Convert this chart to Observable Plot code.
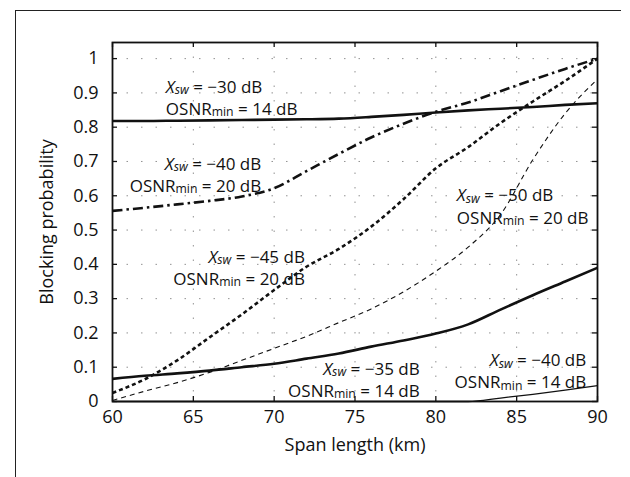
<!DOCTYPE html>
<html><head><meta charset="utf-8">
<script src="https://cdn.jsdelivr.net/npm/d3@7"></script>
<script src="https://cdn.jsdelivr.net/npm/@observablehq/plot@0.6"></script>
<style>
body{margin:0;background:#fff;}
#wrap{position:relative;width:630px;height:477px;overflow:hidden;background:#fff;}
#wrap svg{position:absolute;left:0;top:0;}
#border{position:absolute;left:15px;top:10px;width:605px;height:480px;border-left:1.5px solid #222;border-top:1.5px solid #222;z-index:2;pointer-events:none;}
</style></head><body><div id="wrap"></div>
<script>
// Span length (km)
const spanKm = [60, 62, 64, 66, 68, 70, 72, 74, 76, 78, 80, 82, 84, 86, 88, 90];
// Blocking probability per curve (Xsw, OSNRmin)
const xsw30_osnr14 = [0.818, 0.818, 0.819, 0.820, 0.821, 0.822, 0.823, 0.825, 0.830, 0.836, 0.843, 0.849, 0.854, 0.859, 0.865, 0.870];
const xsw40_osnr20 = [0.556, 0.565, 0.575, 0.585, 0.598, 0.622, 0.672, 0.722, 0.770, 0.810, 0.845, 0.872, 0.905, 0.938, 0.970, 1.000];
const xsw45_osnr20 = [0.025, 0.065, 0.120, 0.187, 0.254, 0.325, 0.393, 0.445, 0.510, 0.590, 0.680, 0.742, 0.812, 0.875, 0.935, 1.000];
const xsw50_osnr20 = [0.003, 0.030, 0.055, 0.085, 0.120, 0.155, 0.190, 0.230, 0.270, 0.320, 0.380, 0.450, 0.545, 0.705, 0.840, 0.940];
const xsw35_osnr14 = [0.066, 0.075, 0.082, 0.090, 0.100, 0.110, 0.125, 0.140, 0.160, 0.178, 0.198, 0.225, 0.268, 0.310, 0.350, 0.390];
const xsw40_osnr14 = [0.000, 0.000, 0.000, 0.000, 0.000, 0.000, 0.000, 0.000, 0.000, 0.000, 0.000, 0.000, 0.010, 0.021, 0.033, 0.046];

// Curve annotations
const labelXsw  = ["−30 dB", "−40 dB", "−45 dB", "−50 dB", "−35 dB", "−40 dB"];
const labelOsnr = ["14 dB", "20 dB", "20 dB", "20 dB", "14 dB", "14 dB"];
const labelAtKm = [63.3, 69.2, 71.9, 81.3, 79.0, 89.3];
const labelAtP  = [0.888, 0.665, 0.393, 0.572, 0.067, 0.091];
const labelSide = ["start", "end", "end", "start", "end", "end"];

// Axis ticks
const xTicks = [60, 65, 70, 75, 80, 85, 90];
const yTicks = [0, 0.1, 0.2, 0.3, 0.4, 0.5, 0.6, 0.7, 0.8, 0.9, 1];
const yTickLabels = ["0", "0.1", "0.2", "0.3", "0.4", "0.5", "0.6", "0.7", "0.8", "0.9", "1"];

const toRows = vals => spanKm.map((x, i) => ({x, y: vals[i]}));
const curves = [
  {rows: toRows(xsw30_osnr14), sw: 2.6, dash: null},
  {rows: toRows(xsw40_osnr20), sw: 2.6, dash: "10,4,2.5,4"},
  {rows: toRows(xsw45_osnr20), sw: 2.6, dash: "4,3"},
  {rows: toRows(xsw50_osnr20), sw: 1.1, dash: "5,4"},
  {rows: toRows(xsw35_osnr14), sw: 2.6, dash: null},
  {rows: toRows(xsw40_osnr14), sw: 1.3, dash: null}
];
const labels = labelXsw.map((s, i) => ({x: labelAtKm[i], y: labelAtP[i], side: labelSide[i],
  txt: "X_sw = " + s + "\nOSNR_min = " + labelOsnr[i]}));

const W = 630, H = 477, mL = 112, mR = 33, mT = 42, mB = 76;
const innerW = W - mL - mR, innerH = H - mT - mB, tick = 5;

const marks = [
  Plot.gridX(xTicks, {stroke: "#777", strokeOpacity: 0.8, strokeDasharray: "1.5,13"}),
  Plot.gridY(yTicks, {stroke: "#777", strokeOpacity: 0.8, strokeDasharray: "1.5,13"}),
  ...curves.map(c => Plot.line(c.rows, {x: "x", y: "y", stroke: "#111", strokeWidth: c.sw,
      strokeDasharray: c.dash, curve: "monotone-x", strokeLinecap: "butt"})),
  ...labels.map(l => Plot.text([l], {x: "x", y: "y", text: "txt", textAnchor: l.side, lineHeight: 1.3, fontSize: 17, className: "anno", fill: "#111"})),
  Plot.tickY(yTicks, {y: d => d, insetRight: innerW - tick, stroke: "#111", strokeWidth: 1.3}),
  Plot.tickY(yTicks, {y: d => d, insetLeft: innerW - tick, stroke: "#111", strokeWidth: 1.3}),
  Plot.tickX(xTicks, {x: d => d, insetTop: innerH - tick, stroke: "#111", strokeWidth: 1.3}),
  Plot.tickX(xTicks, {x: d => d, insetBottom: innerH - tick, stroke: "#111", strokeWidth: 1.3}),
  Plot.axisX(xTicks, {tickSize: 0, tickPadding: 9, label: "Span length (km)", labelAnchor: "center", labelOffset: 49, labelArrow: "none", fill: "#111"}),
  Plot.axisY(yTicks, {tickSize: 0, tickPadding: 14, tickFormat: d => yTickLabels[yTicks.indexOf(d)],
      label: "Blocking probability", labelAnchor: "center", labelOffset: 72, labelArrow: "none", fill: "#111"}),
  Plot.frame({stroke: "#111", strokeWidth: 1.8})
];

const chart = Plot.plot({
  width: W, height: H,
  marginLeft: mL, marginRight: mR, marginTop: mT, marginBottom: mB,
  x: {domain: [60, 90]},
  y: {domain: [0, 1.047]},
  style: {fontFamily: "'Open Sans', sans-serif", fontSize: "18px", color: "#111", background: "transparent"},
  marks
});

function richify(node) {
  const t = node.textContent;
  const m = t.match(/^(X|OSNR)_(sw|min)(.*)$/);
  if (!m) return;
  const sel = d3.select(node);
  sel.text(null);
  const italic = m[1] === "X";
  sel.append("tspan").text(m[1]).attr("font-style", italic ? "italic" : null);
  sel.append("tspan").text(m[2]).attr("font-size", "0.72em").attr("dy", "0.1em").attr("font-style", italic ? "italic" : null);
  sel.append("tspan").text(m[3]).attr("dy", "-0.07em");
}
d3.select(chart).selectAll("g.anno text").each(function () {
  const lines = this.querySelectorAll(":scope > tspan");
  if (lines.length) lines.forEach(richify); else richify(this);
});

const wrap = document.getElementById("wrap");
wrap.appendChild(chart);
const b = document.createElement("div"); b.id = "border"; wrap.appendChild(b);
</script>
</body></html>
